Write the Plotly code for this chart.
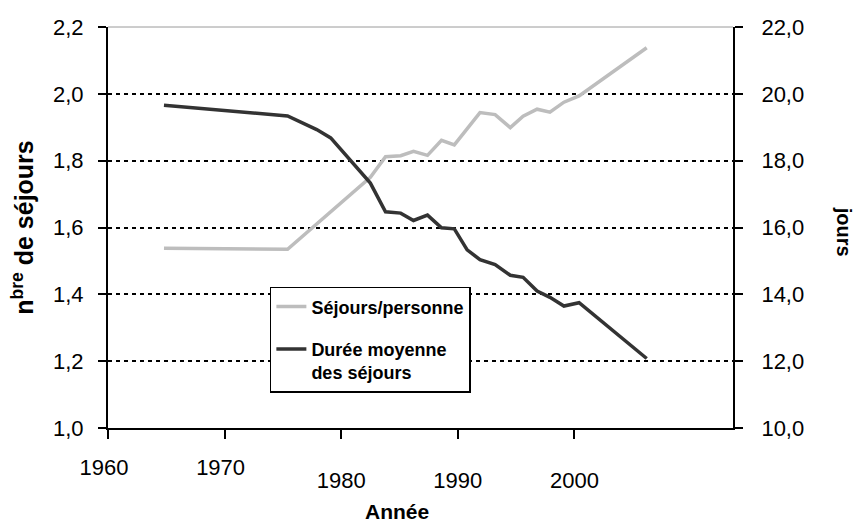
import plotly.graph_objects as go

# ---- data ----
annees = [1964.8, 1975.4, 1977.9, 1979.1, 1982.5, 1983.8, 1985.1, 1986.2, 1987.4,
          1988.6, 1989.7, 1990.8, 1991.9, 1993.2, 1994.5, 1995.6, 1996.8, 1997.9,
          1999.1, 2000.4, 2006.2]
sejours_par_personne = [1.538, 1.535, None, None, 1.75, 1.812, 1.815, 1.828, 1.816,
                        1.861, 1.847, None, 1.944, 1.938, 1.899, 1.933, 1.954, 1.945,
                        1.975, 1.994, 2.138]
duree_moyenne = [19.66, 19.34, 18.93, 18.68, 17.33, 16.47, 16.43, 16.21, 16.37,
                 15.99, 15.96, 15.33, 15.04, 14.89, 14.57, 14.51, 14.10, 13.91,
                 13.65, 13.75, 12.08]

x_ticks_bas = [1980, 1990, 2000]
x_ticks_haut = [1960, 1970]
y_left_ticks = [1.0, 1.2, 1.4, 1.6, 1.8, 2.0, 2.2]
y_grid = [1.2, 1.4, 1.6, 1.8, 2.0]
y_right_ticks = [10, 12, 14, 16, 18, 20, 22]

FONT = "Liberation Sans, Arial, sans-serif"

fig = go.Figure()
# empty helper traces so the overlay axes (grid / staggered tick labels) are built
fig.add_trace(go.Scatter(x=[], y=[], xaxis="x2", yaxis="y", showlegend=False,
                         hoverinfo="skip"))
fig.add_trace(go.Scatter(x=[], y=[], xaxis="x", yaxis="y3", showlegend=False,
                         hoverinfo="skip"))
fig.add_trace(go.Scatter(
    x=annees, y=sejours_par_personne, mode="lines", name="Séjours/personne",
    line=dict(color="#bdbdbd", width=3.5), connectgaps=True,
    legendgroup="a", yaxis="y"))
fig.add_trace(go.Scatter(
    x=annees, y=duree_moyenne, mode="lines", name="Durée moyenne<br>des séjours",
    line=dict(color="#333333", width=3.5), connectgaps=True,
    legendgroup="b", yaxis="y2"))

tickfont = dict(family=FONT, size=22, color="black")
xr = [1960, 2013.6]

fig.update_layout(
    width=857, height=523,
    margin=dict(l=108, r=124, t=27, b=95),
    paper_bgcolor="white", plot_bgcolor="white",
    separators=", ",
    font=dict(family=FONT, color="black"),
    xaxis=dict(
        range=xr, tickvals=x_ticks_haut + x_ticks_bas,
        ticktext=["" for _ in x_ticks_haut] + [str(v) for v in x_ticks_bas],
        showline=True, linecolor="black", linewidth=2,
        ticks="outside", ticklen=9, tickwidth=1.5, tickcolor="black",
        showgrid=False, zeroline=False, tickfont=tickfont,
        ticklabelstandoff=23, automargin=False,
    ),
    xaxis2=dict(
        range=xr, overlaying="x", anchor="y", side="bottom",
        tickvals=x_ticks_haut, ticktext=[str(v) for v in x_ticks_haut],
        ticks="", showline=False, showgrid=False, zeroline=False,
        tickfont=tickfont, ticklabelstandoff=24, ticklabelshift=-4,
        automargin=False,
    ),
    yaxis=dict(
        range=[1.0, 2.2], tickvals=y_left_ticks, tickformat=".1f",
        showline=True, linecolor="black", linewidth=2,
        ticks="outside", ticklen=8, tickwidth=1.5, tickcolor="black",
        showgrid=False, zeroline=False, tickfont=tickfont,
        ticklabelstandoff=10, automargin=False,
        title=dict(text="n<sup>bre</sup> de séjours",
                   font=dict(family=FONT, size=25, weight="bold"), standoff=12),
    ),
    yaxis3=dict(
        range=[1.0, 2.2], overlaying="y", tickvals=y_grid,
        showticklabels=False, ticks="", showline=False, zeroline=False,
        showgrid=True, gridcolor="black", gridwidth=1.5, griddash="4px,4px",
        automargin=False,
    ),
    yaxis2=dict(
        range=[10, 22], tickvals=y_right_ticks, tickformat=".1f",
        overlaying="y", side="right", anchor="x",
        showline=True, linecolor="black", linewidth=2,
        ticks="outside", ticklen=8, tickwidth=1.5, tickcolor="black",
        showgrid=False, zeroline=False, tickfont=tickfont,
        ticklabelstandoff=14, automargin=False,
    ),
    legend=dict(
        x=0.259, y=0.352, xanchor="left", yanchor="top",
        bgcolor="white", bordercolor="black", borderwidth=1.5,
        font=dict(family=FONT, size=18, weight="bold", color="black"),
        valign="top", tracegroupgap=16, itemwidth=30,
    ),
    showlegend=True,
)

fig.add_shape(type="line", xref="paper", yref="paper", x0=0, x1=1, y0=1, y1=1,
              line=dict(color="#9a9a9a", width=1))

fig.add_annotation(
    text="Année", xref="paper", yref="paper", x=0.463, y=-0.209,
    xanchor="center", yanchor="middle", showarrow=False,
    font=dict(family=FONT, size=21, weight="bold", color="black"))

fig.add_annotation(
    text="jours", xref="paper", yref="paper", x=1.179, y=0.49,
    xanchor="center", yanchor="middle", textangle=90, showarrow=False,
    font=dict(family=FONT, size=20, weight="bold", color="black"))

fig.write_html("out.html", config={"displayModeBar": False},
               post_script="document.body.style.margin='0';")
